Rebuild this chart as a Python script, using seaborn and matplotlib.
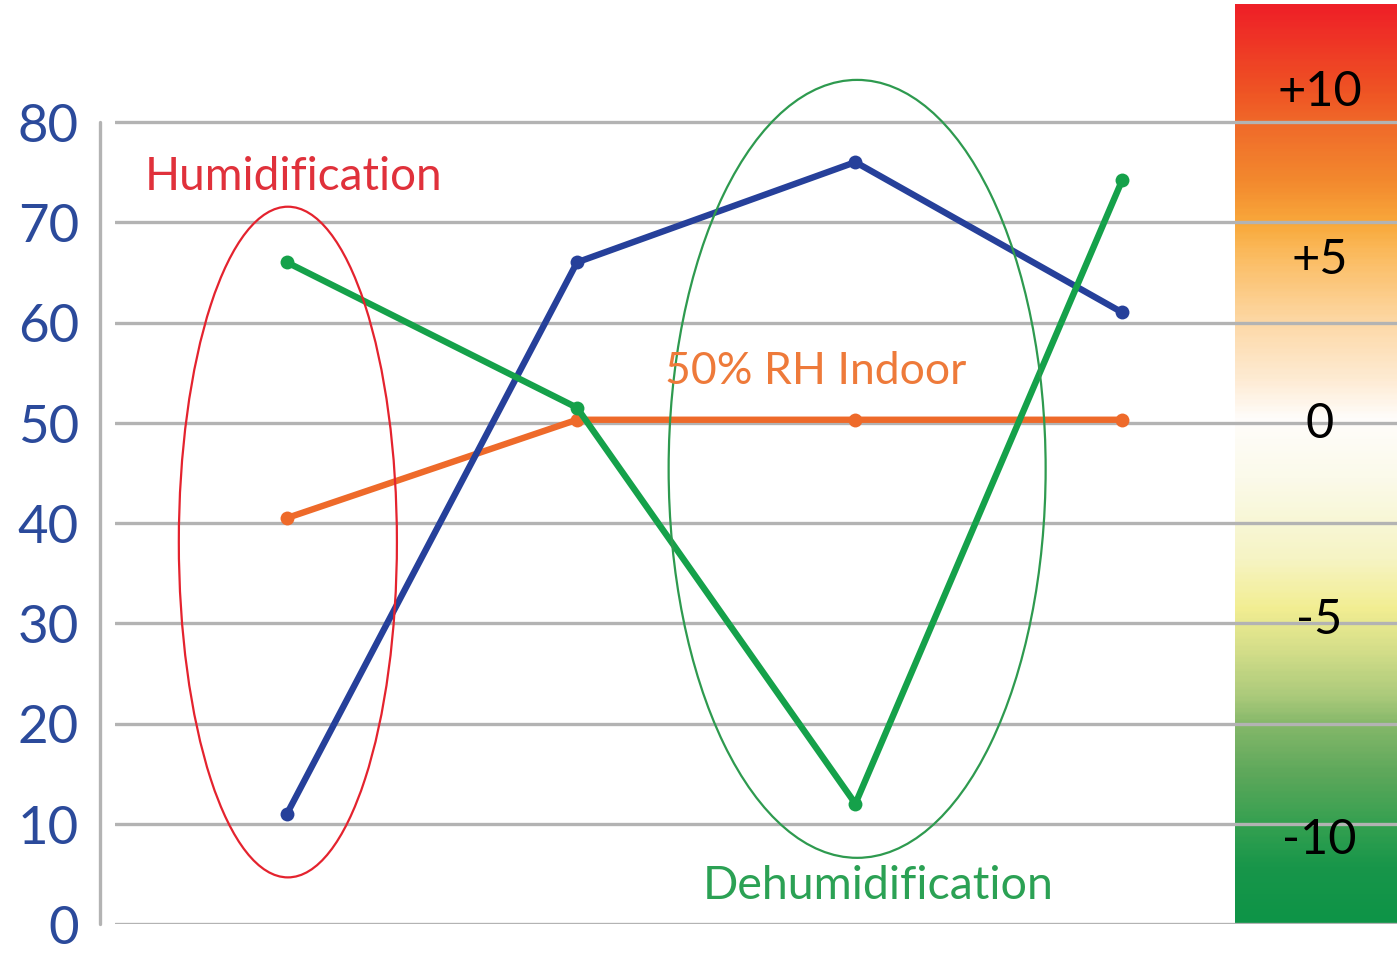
import numpy as np
import matplotlib
matplotlib.use("Agg")
import matplotlib.pyplot as plt
from matplotlib.patches import Ellipse
from matplotlib.colors import LinearSegmentedColormap
import seaborn as sns

# data
x_pos = [1.0, 2.0, 2.96, 3.88]
outdoor_rh = [11, 66, 76, 61]          # blue
indoor_rh = [40.5, 50.3, 50.3, 50.3]    # orange (50% RH indoor)
difference = [66, 51.5, 12, 74.2]       # green
y_ticks = [0, 10, 20, 30, 40, 50, 60, 70, 80]
scale_labels = ["+10", "+5", "0", "-5", "-10"]
scale_label_y = [83.1, 66.3, 50.0, 30.4, 8.5]

sns.set_style("white")
plt.rcParams['font.family'] = ['Lato', 'DejaVu Sans']

fig = plt.figure(figsize=(13.97, 9.54), dpi=100)
W, H = 1397, 954
ax = fig.add_axes([115 / W, (954 - 925) / H, (1397 - 115) / W, 920 / H])
ytop = 920 / 10.025
ax.set_ylim(0, ytop)
ax.set_xlim(118 / 290, 1400 / 290)
for s in ax.spines.values():
    s.set_visible(False)

# colour scale on the right
stops = [(0.0, "#0E9447"), (5.5, "#18964A"), (9.5, "#33A050"), (14.5, "#5BA75A"),
         (19.9, "#86B86A"), (22.4, "#A9C97A"), (27.4, "#D6DF8A"), (31.4, "#F2EE92"),
         (36.4, "#F6F4C4"), (44.4, "#FBFAEA"), (50.4, "#FFFDFB"), (54.4, "#FEEBD3"),
         (59.9, "#FDD9A8"), (66.3, "#FBBE66"), (69.8, "#F9AA3C"), (74.3, "#F3892E"),
         (80.0, "#F06A2A"), (83.1, "#EF5524"), (ytop, "#EE2027")]
cmap = LinearSegmentedColormap.from_list("rh", [(p / ytop, c) for p, c in stops])
grad = np.linspace(0, 1, 400).reshape(-1, 1)
ax.imshow(grad, cmap=cmap, origin="lower", aspect="auto",
          extent=[1238 / 290, 1400 / 290, 0, ytop], zorder=0)
for lab, yy in zip(scale_labels, scale_label_y):
    ax.text(4.56, yy, lab, color="black", fontsize=35, ha="center", va="center", zorder=6)

# grid lines
for t in y_ticks:
    ax.axhline(t, color="#B3B3B3", linewidth=2.4, zorder=1)
ax.plot([-0.0117, -0.0117], [0, 80], color="#B3B3B3", linewidth=2.4,
        transform=ax.get_yaxis_transform(), clip_on=False)

ax.set_yticks(y_ticks)
ax.set_yticklabels([str(t) for t in y_ticks], color="#2B4A9B", fontsize=38)
ax.tick_params(axis="y", length=0, pad=26)
ax.set_xticks([])

# lines
sns.lineplot(x=x_pos, y=indoor_rh, color="#EE6A2A", linewidth=4.6, marker="o",
             markersize=10, markeredgewidth=0, ax=ax, zorder=3)
sns.lineplot(x=x_pos, y=outdoor_rh, color="#26409A", linewidth=4.6, marker="o",
             markersize=10, markeredgewidth=0, ax=ax, zorder=4)
sns.lineplot(x=x_pos, y=difference, color="#15A14A", linewidth=4.6, marker="o",
             markersize=10, markeredgewidth=0, ax=ax, zorder=5)

# circled regions
ax.add_patch(Ellipse((1.003, 38.1), 0.752, 66.9, fill=False, edgecolor="#E4232E",
                     linewidth=1.6, zorder=6))
ax.add_patch(Ellipse((2.966, 45.4), 1.30, 77.6, fill=False, edgecolor="#2E9A4F",
                     linewidth=1.6, zorder=6))

ax.text(0.51, 74.6, "Humidification", color="#E0313B", fontsize=33, ha="left", va="center", zorder=6)
ax.text(2.303, 55.2, "50% RH Indoor", color="#EE7A3A", fontsize=32, ha="left", va="center", zorder=6)
ax.text(2.434, 3.9, "Dehumidification", color="#2BA154", fontsize=33.5, ha="left", va="center", zorder=6)

fig.savefig("out.png", dpi=100)
